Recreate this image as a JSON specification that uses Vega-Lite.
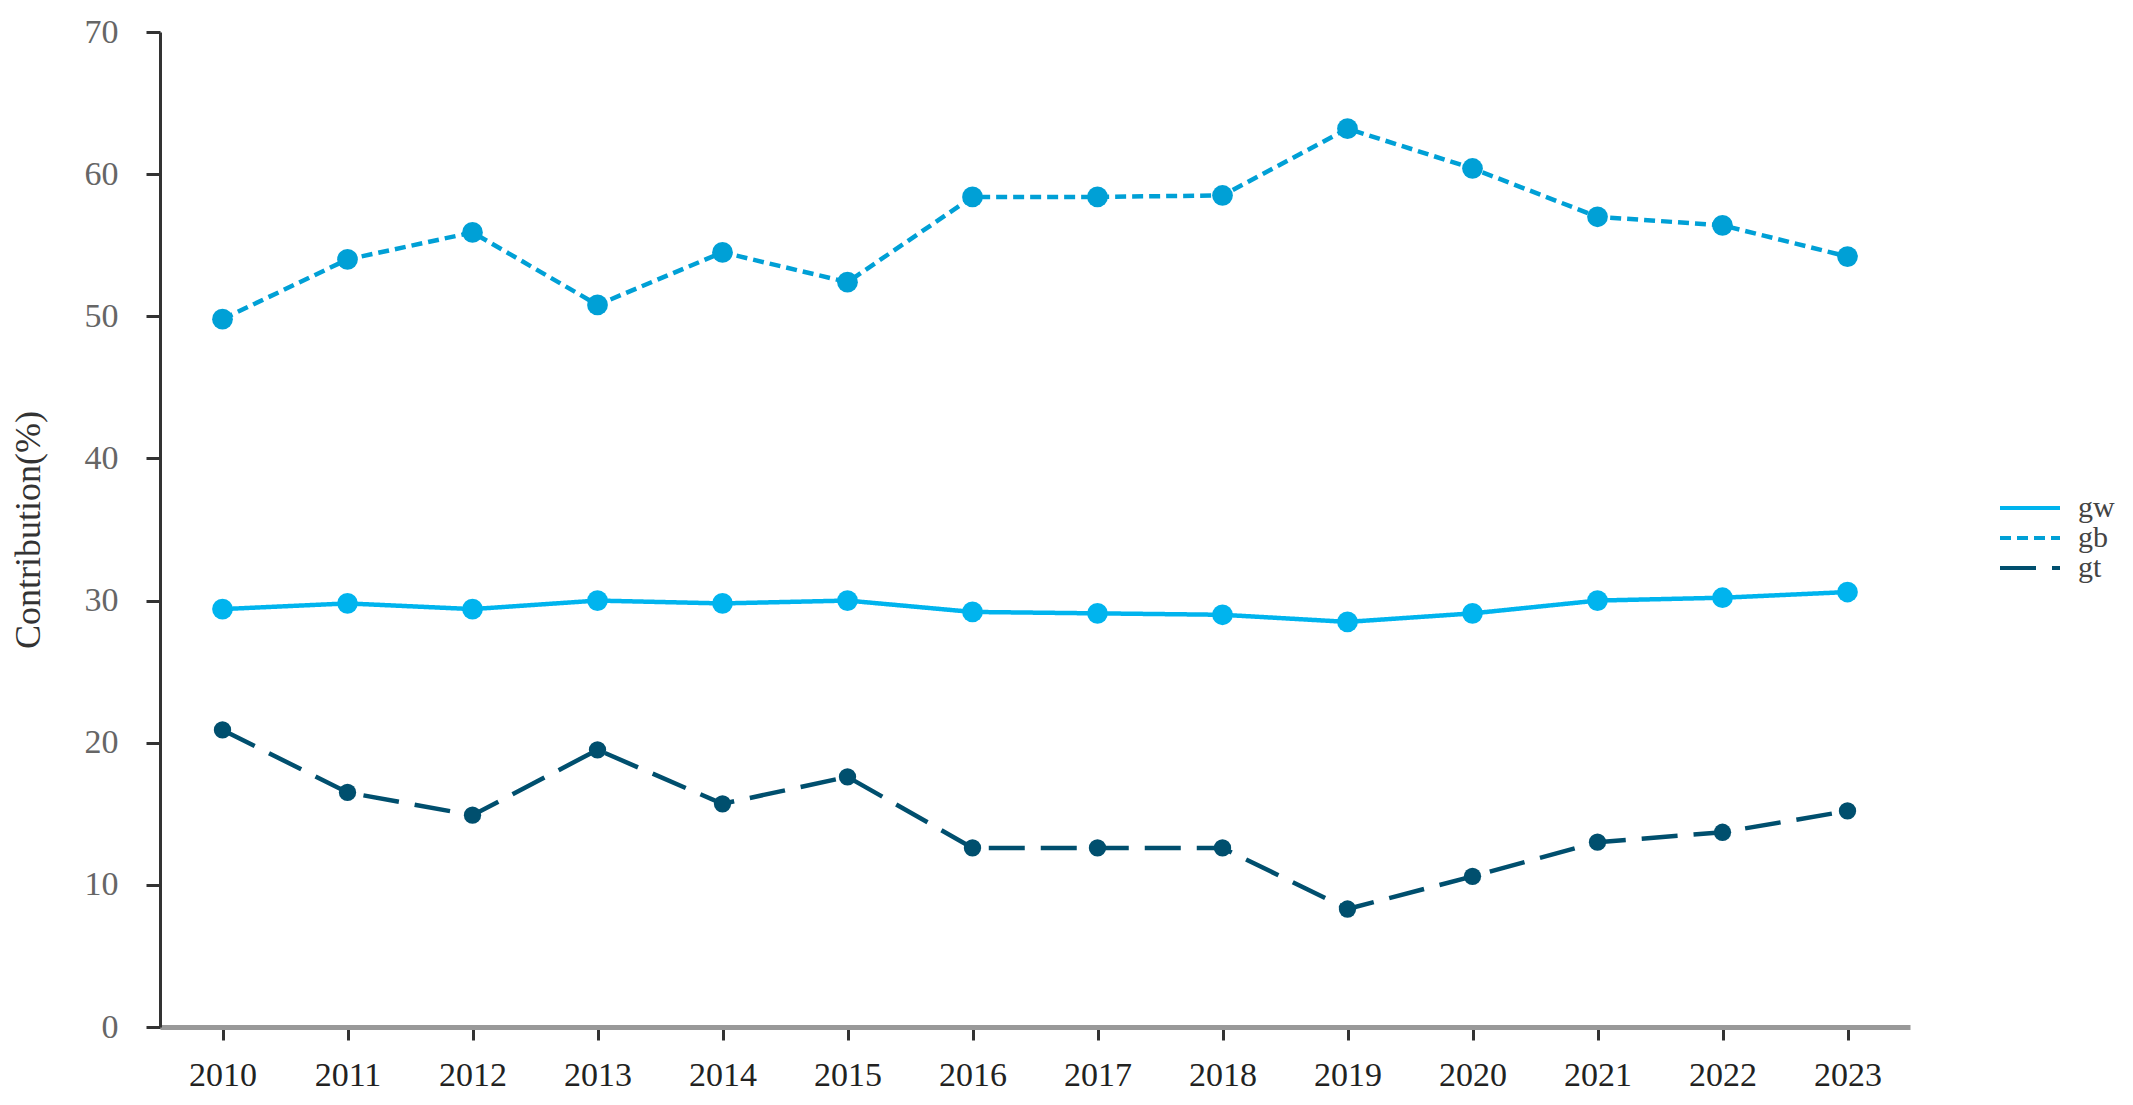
{
  "$schema": "https://vega.github.io/schema/vega-lite/v6.json",
  "autosize": "none",
  "width": 1750,
  "height": 995,
  "padding": {"left": 160, "top": 32, "right": 223, "bottom": 78},
  "background": "white",
  "config": {
    "view": {"stroke": null},
    "font": "Liberation Serif",
    "axis": {"grid": false, "labelFont": "Liberation Serif", "titleFont": "Liberation Serif"}
  },
  "data": {
    "values": [
      {"year": "2010", "series": "gw", "value": 29.4},
      {"year": "2011", "series": "gw", "value": 29.8},
      {"year": "2012", "series": "gw", "value": 29.4},
      {"year": "2013", "series": "gw", "value": 30.0},
      {"year": "2014", "series": "gw", "value": 29.8},
      {"year": "2015", "series": "gw", "value": 30.0},
      {"year": "2016", "series": "gw", "value": 29.2},
      {"year": "2017", "series": "gw", "value": 29.1},
      {"year": "2018", "series": "gw", "value": 29.0},
      {"year": "2019", "series": "gw", "value": 28.5},
      {"year": "2020", "series": "gw", "value": 29.1},
      {"year": "2021", "series": "gw", "value": 30.0},
      {"year": "2022", "series": "gw", "value": 30.2},
      {"year": "2023", "series": "gw", "value": 30.6},
      {"year": "2010", "series": "gb", "value": 49.8},
      {"year": "2011", "series": "gb", "value": 54.0},
      {"year": "2012", "series": "gb", "value": 55.9},
      {"year": "2013", "series": "gb", "value": 50.8},
      {"year": "2014", "series": "gb", "value": 54.5},
      {"year": "2015", "series": "gb", "value": 52.4},
      {"year": "2016", "series": "gb", "value": 58.4},
      {"year": "2017", "series": "gb", "value": 58.4},
      {"year": "2018", "series": "gb", "value": 58.5},
      {"year": "2019", "series": "gb", "value": 63.2},
      {"year": "2020", "series": "gb", "value": 60.4},
      {"year": "2021", "series": "gb", "value": 57.0},
      {"year": "2022", "series": "gb", "value": 56.4},
      {"year": "2023", "series": "gb", "value": 54.2},
      {"year": "2010", "series": "gt", "value": 20.9},
      {"year": "2011", "series": "gt", "value": 16.5},
      {"year": "2012", "series": "gt", "value": 14.9},
      {"year": "2013", "series": "gt", "value": 19.5},
      {"year": "2014", "series": "gt", "value": 15.7},
      {"year": "2015", "series": "gt", "value": 17.6},
      {"year": "2016", "series": "gt", "value": 12.6},
      {"year": "2017", "series": "gt", "value": 12.6},
      {"year": "2018", "series": "gt", "value": 12.6},
      {"year": "2019", "series": "gt", "value": 8.3},
      {"year": "2020", "series": "gt", "value": 10.6},
      {"year": "2021", "series": "gt", "value": 13.0},
      {"year": "2022", "series": "gt", "value": 13.7},
      {"year": "2023", "series": "gt", "value": 15.2}
    ]
  },
  "encoding": {
    "x": {
      "field": "year", "type": "ordinal",
      "scale": {"type": "point", "padding": 0.5},
      "axis": {
        "title": null, "labelAngle": 0,
        "domainColor": "#999999", "domainWidth": 5,
        "tickColor": "#333333", "tickWidth": 3, "tickSize": 13,
        "labelFontSize": 34, "labelColor": "#222222", "labelPadding": 18
      }
    },
    "y": {
      "field": "value", "type": "quantitative",
      "scale": {"domain": [0, 70], "nice": false},
      "axis": {
        "title": "Contribution(%)", "titleFontSize": 36, "titleFontWeight": "normal", "titleColor": "#333333",
        "titlePadding": 37,
        "values": [0, 10, 20, 30, 40, 50, 60, 70],
        "domainColor": "#333333", "domainWidth": 3,
        "tickColor": "#333333", "tickWidth": 3, "tickSize": 14,
        "labelFontSize": 34, "labelColor": "#666666", "labelPadding": 28
      }
    },
    "color": {
      "field": "series", "type": "nominal",
      "scale": {"domain": ["gw", "gb", "gt"], "range": ["#00B4EE", "#00A0D6", "#004F6E"]},
      "legend": {
        "title": null, "orient": "none", "legendX": 1855, "legendY": 461,
        "symbolType": "M-3,0H3", "symbolSize": 400, "symbolStrokeWidth": 4,
        "labelFontSize": 30, "labelColor": "#444444", "labelFont": "Liberation Serif",
        "rowPadding": -4, "labelOffset": 33
      }
    }
  },
  "layer": [
    {
      "mark": {"type": "line", "strokeWidth": 4.5},
      "encoding": {
        "strokeDash": {
          "field": "series", "type": "nominal",
          "scale": {"domain": ["gw", "gb", "gt"], "range": [[1, 0], [11, 6], [36, 16]]},
          "legend": {
            "title": null, "orient": "none", "legendX": 1855, "legendY": 461,
            "symbolType": "M-3,0H3", "symbolSize": 400, "symbolStrokeWidth": 4,
            "labelFontSize": 30, "labelColor": "#444444", "labelFont": "Liberation Serif",
            "rowPadding": -4, "labelOffset": 33
          }
        }
      }
    },
    {
      "transform": [{"filter": "datum.series !== 'gt'"}],
      "mark": {"type": "point", "filled": true, "opacity": 1, "size": 430}
    },
    {
      "transform": [{"filter": "datum.series === 'gt'"}],
      "mark": {"type": "point", "filled": true, "opacity": 1, "size": 300}
    }
  ]
}
